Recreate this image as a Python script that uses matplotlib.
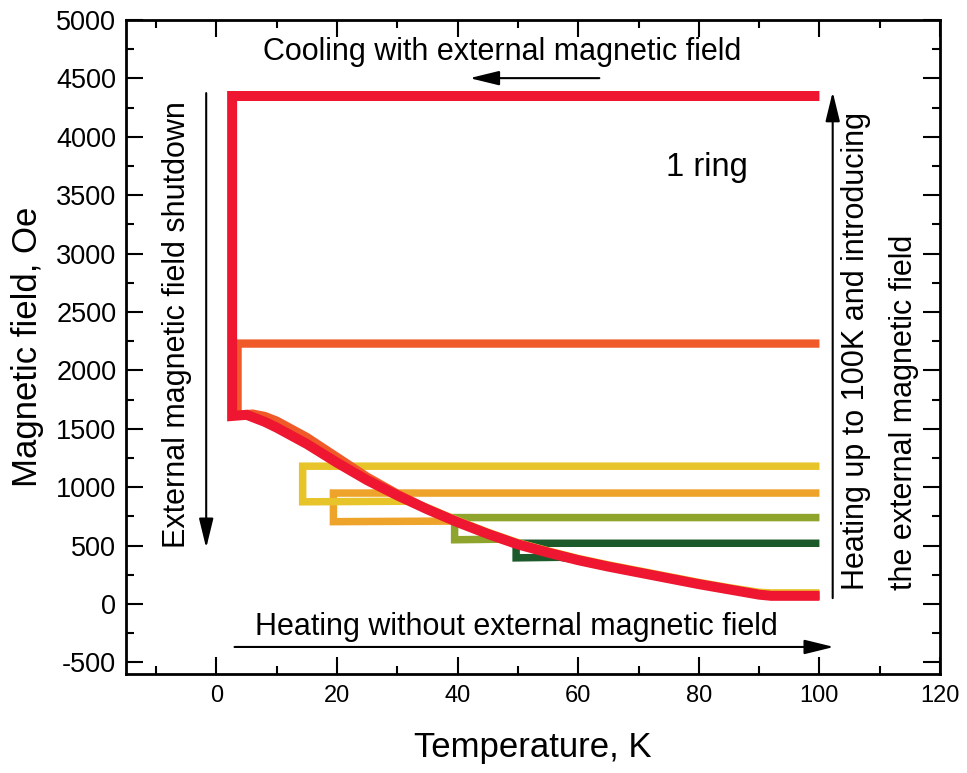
import matplotlib
matplotlib.use("Agg")
import matplotlib.pyplot as plt
from matplotlib.ticker import AutoMinorLocator

plt.rcParams['font.family'] = ['Liberation Sans', 'DejaVu Sans']
plt.rcParams['axes.unicode_minus'] = False

# ---- data ----
red_T = [100, 2.6, 2.6, 5, 8, 10, 15, 20, 25, 30, 35, 40, 45, 50, 55, 60, 65, 70, 75, 80, 85, 90, 92, 100]
red_H = [4350, 4350, 1610, 1620, 1560, 1510, 1370, 1210, 1060, 930, 810, 700, 600, 510, 440, 375, 320, 270, 220, 170, 125, 80, 70, 70]

ored_T = [100, 3.5, 3.5, 6, 8, 10, 15, 20, 25, 30, 35, 40, 45, 50, 55, 60, 65, 70, 75, 80, 85, 90, 92, 100]
ored_H = [2230, 2230, 1620, 1630, 1610, 1570, 1430, 1260, 1090, 945, 815, 705, 605, 515, 445, 380, 322, 272, 222, 172, 127, 82, 72, 72]

yel_T = [100, 14.3, 14.3, 32, 35, 40, 45, 50, 55, 60, 65, 70, 75, 80, 85, 90, 92, 100]
yel_H = [1180, 1180, 875, 880, 825, 715, 615, 525, 455, 390, 335, 285, 235, 185, 140, 100, 95, 95]

org_T = [100, 19.4, 19.4, 39, 40, 45, 50, 55, 60, 65, 70, 75, 80, 85, 90, 92, 100]
org_H = [950, 950, 705, 710, 705, 605, 515, 445, 380, 324, 274, 224, 174, 130, 86, 80, 80]

olv_T = [100, 39.5, 39.5, 47, 50, 55, 60, 65, 70, 75, 80, 85, 90, 92, 100]
olv_H = [740, 740, 550, 555, 512, 442, 377, 321, 271, 221, 171, 126, 81, 71, 71]

dgr_T = [100, 49.7, 49.7, 57, 60, 65, 70, 75, 80, 85, 90, 92, 100]
dgr_H = [520, 520, 395, 400, 376, 321, 271, 221, 171, 126, 81, 71, 71]

series = [
    (dgr_T, dgr_H, '#1D5A2B', 5.4),
    (olv_T, olv_H, '#8EA42D', 5.4),
    (org_T, org_H, '#EEA32B', 5.4),
    (yel_T, yel_H, '#E8C42B', 5.4),
    (ored_T, ored_H, '#F05A28', 6.0),
    (red_T, red_H, '#EE1630', 7.2),
]

x_ticks = [0, 20, 40, 60, 80, 100, 120]
y_ticks = list(range(-500, 5001, 500))

fig = plt.figure(figsize=(9.67, 7.73), dpi=100)
ax = fig.add_axes([0.1303, 0.128, 0.8418, 0.846])

for T, H, c, lw in series:
    ax.plot(T, H, color=c, lw=lw, solid_joinstyle='miter', solid_capstyle='butt')

ax.set_xlim(-15, 120)
ax.set_ylim(-600, 5000)
ax.set_xticks(x_ticks)
ax.set_yticks(y_ticks)
ax.xaxis.set_minor_locator(AutoMinorLocator(2))
ax.yaxis.set_minor_locator(AutoMinorLocator(2))
ax.tick_params(which='major', direction='in', length=12, width=1.5, top=True, right=True, pad=8)
ax.tick_params(which='minor', direction='in', length=6, width=1.5, top=True, right=True)
ax.tick_params(axis='x', labelsize=17)
ax.tick_params(axis='y', labelsize=19.5, pad=7)
for s in ax.spines.values():
    s.set_linewidth(2)

ax.set_xlabel('Temperature, K', fontsize=25, va='center')
ax.xaxis.set_label_coords(0.5, -0.113)
ax.set_ylabel('Magnetic field, Oe', fontsize=25, va='center')
ax.yaxis.set_label_coords(-0.121, 0.5)

ap = dict(arrowstyle='-|>,head_length=0.9,head_width=0.22', lw=1.5, color='black',
          mutation_scale=20, shrinkA=0, shrinkB=0)
ax.annotate('', xy=(42, 4503), xytext=(63.5, 4503), arrowprops=ap)
ax.annotate('', xy=(-1.7, 480), xytext=(-1.7, 4375), arrowprops=ap)
ax.annotate('', xy=(102.4, -368), xytext=(3, -368), arrowprops=ap)
ax.annotate('', xy=(102.2, 4385), xytext=(102.2, 50), arrowprops=ap)

ax.text(47.4, 4726, 'Cooling with external magnetic field', fontsize=22, ha='center', va='center')
ax.text(81.4, 3741, '1 ring', fontsize=23.5, ha='center', va='center')
ax.text(-6.6, 2397, 'External magnetic field shutdown', fontsize=22, rotation=90, ha='center', va='center')
ax.text(106.1, 120, 'Heating up to 100K and introducing', fontsize=22, rotation=90, ha='center', va='bottom')
ax.text(114.1, 120, 'the external magnetic field', fontsize=22, rotation=90, ha='center', va='bottom')
ax.text(49.75, -197, 'Heating without external magnetic field', fontsize=22, ha='center', va='center')

fig.savefig('out.png', dpi=100)
